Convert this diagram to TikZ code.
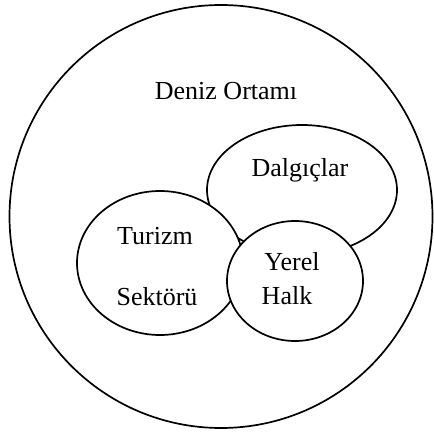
\documentclass[tikz,border=0pt]{standalone}
\usepackage{fontspec}
\setmainfont{Liberation Serif}
\begin{document}
\begin{tikzpicture}[x=1pt, y=1pt, line width=1.7pt,
	label/.style={black, anchor=base, inner sep=0pt, font=\fontsize{26}{31}\selectfont}]
			\useasboundingbox (0,0) rectangle (433,433);
			\draw [black] (221, 216.5) circle (211.5);
			\node[label] (ortam) at (226, 333) {Deniz Ortamı};
			
			\filldraw[fill=white, draw=black] (302, 243) ellipse (95 and 65);
			\node[label] (dalgic) at (300, 256) {Dalgıçlar};
			
			\filldraw[fill=white, draw=black] (160, 170) ellipse (83 and 72);
			\node[label] (turizm) at (155, 188) {Turizm};
			\node[label] (sektor) at (157, 127) {Sektörü};
			
			\filldraw[fill=white, draw=black] (295, 152) ellipse (68 and 60);
			\node[label] (yerel) at (292, 162) {Yerel};
			\node[label] (halk) at (287, 128) {Halk};
		
		\end{tikzpicture}
\end{document}
